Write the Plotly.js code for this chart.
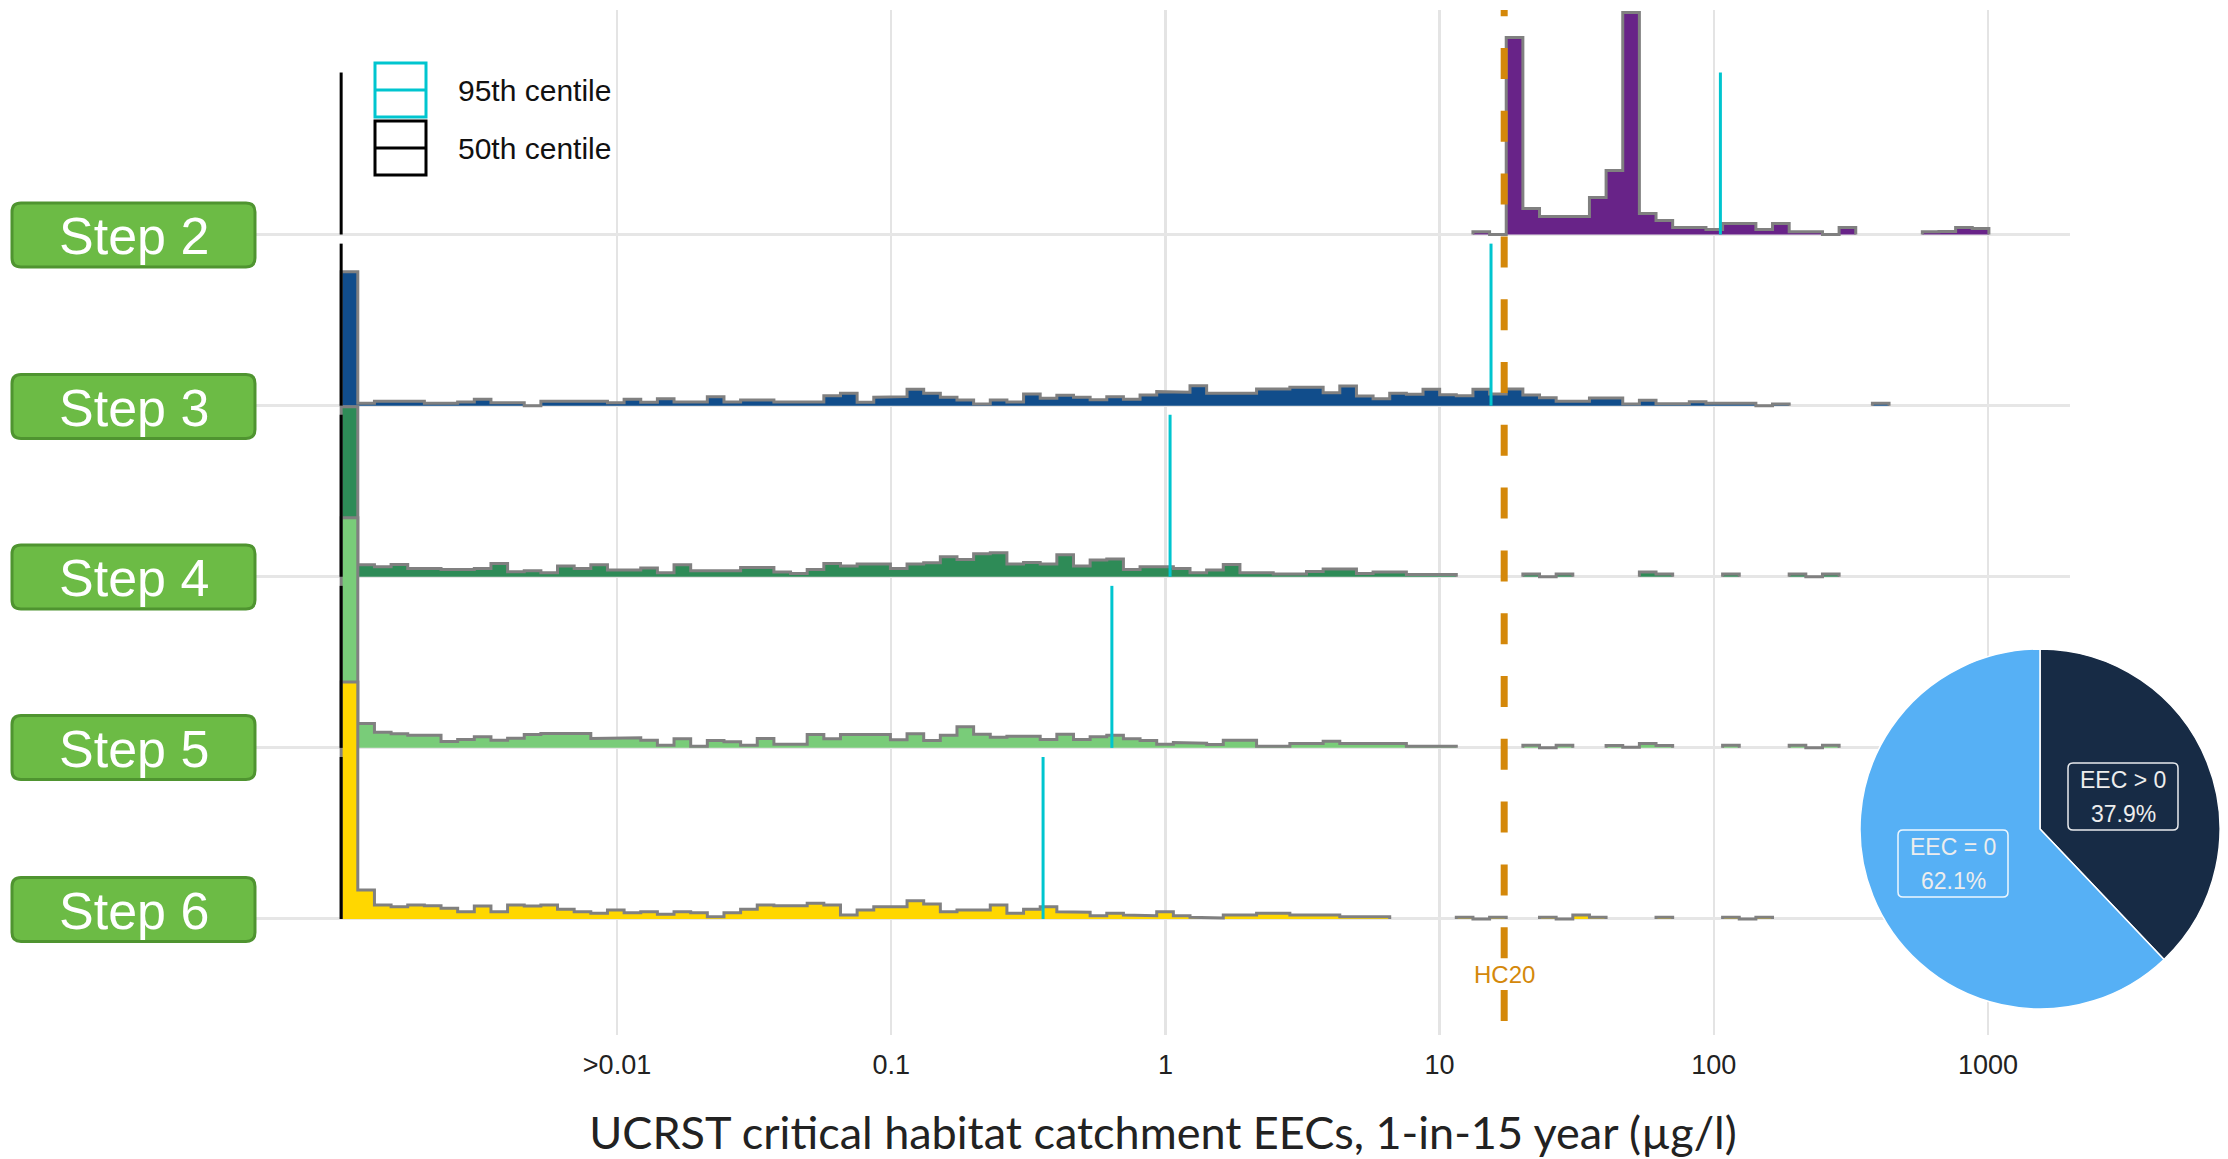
<!DOCTYPE html>
<html><head><meta charset="utf-8">
<script src="https://cdn.plot.ly/plotly-3.0.1.min.js"></script>
<style>html,body{margin:0;padding:0;background:#fff;}#chart{width:2228px;height:1159px;}</style>
</head><body><div id="chart"></div>
<script>
const W = 2228, H = 1159;

// ---- data ----
const steps = ['Step 2', 'Step 3', 'Step 4', 'Step 5', 'Step 6'];
const stepColors = ['#682388', '#114D8B', '#2E8B57', '#79CC79', '#FFD700'];
// histogram bins on log10 scale; bin 0 holds EEC = 0 (drawn at the left edge)
const binStartLog = -3.006;
const binWidthLog = 0.0607;
// relative bin heights, first bin index of each series given separately
const step2First = 68;
const step2 = [2.7,0,197,26,18,18,18,37,64,222,21,14,7,7,5,11,11,5,11,2.7,2.7,0,7,null,null,null,null,2.7,3,7,6];
const step3First = 0;
const step3 = [134,2.3,4.3,4.3,4.3,2.3,2.3,3.7,6.3,3,
  3,0,4.3,4.3,4.3,4.3,3,6.3,3.3,7,
  3.7,3.7,9,3.7,5.7,5.7,3.7,3.7,3.7,10,
  12.3,3.3,8.3,9,16.3,12.3,8.3,5.7,1.7,5.7,
  3.7,11.7,7.3,10.3,8.3,6,9,6.3,10.7,14,
  13.3,20,12.3,12.3,12.3,16.7,16.7,18.3,18.3,13,
  19.7,9.7,7,12.3,11.3,16.3,11,10,16.3,11.7,
  16.7,10.7,8,4.3,4.3,7.7,7.7,1.7,5.3,2,
  2,4,2.3,2.3,2.3,0,1.7,null,null,null,
  null,null,2.3];
const step4First = 0;
const step4 = [170,12,10,12.3,8.3,8.3,7.3,7.3,8.3,13.3,
  5,6,4,10.7,8.3,12,6.7,6.7,8.7,4,
  12,6,6,6,9.3,9.3,4.7,3.3,7.3,13.3,
  10.7,12.7,12.7,8.3,12.7,14,20,17.3,23,24,
  12.7,14.3,12.7,22,10.7,16.7,17.7,7.3,10,10,
  8.3,4,6.7,12.3,4,4,2.7,2.7,5.3,7.7,
  7.7,3.3,4.7,4.7,2.3,2.3,2.3,null,null,null,
  null,2.7,0,2.7,null,null,null,null,4.7,2.7,
  null,null,null,2.7,null,null,null,2.7,0,2.7];
const step5First = 0;
const step5 = [230,24.3,15.7,14,12.7,12.7,6.3,8.3,11,7.7,
  9.7,13.3,14.3,13.7,14.3,9.3,10,10,7.7,2.7,
  9,1.7,7.3,6,2.7,9.3,3.7,3.7,13.3,9,
  13.3,13.3,13.3,8,14,7.3,12.7,21,13.7,10.7,
  11.7,11.7,8.3,13.7,8.3,11,12.7,9,7.3,3.7,
  5.3,4.7,3.3,7.7,7.7,1.7,1.7,4.3,4.3,6.7,
  4.3,4.3,4.3,4.3,1.7,1.7,1.7,null,null,null,
  null,2.7,0,2.7,null,null,2.3,0.7,4.3,2.3,
  null,null,null,2.7,null,null,null,2.7,0,2.7];
const step6First = 0;
const step6 = [237,29,14,12.3,14,13.3,10.7,7.3,13,7.3,
  14,13,14,9.7,7.3,5.7,9,6.3,7.3,4.7,
  7.3,6.3,2.3,6.3,9.7,14,13.3,13.3,15.7,14,
  4,9,12.3,12.3,18.3,15,7.3,9,9,14,
  5.7,9.7,12.3,7.3,6.7,3.3,5.7,4,3.3,7.3,
  3.3,1.7,1,4,4,5.7,5.7,4,4,4,
  2.3,2.3,2.3,null,null,null,null,1.7,0,1.7,
  null,null,1.7,0,4,1.7,null,null,null,1.7,
  null,null,null,1.7,0,1.7];
const seriesList = [step2, step3, step4, step5, step6];
const seriesFirst = [step2First, step3First, step4First, step5First, step6First];

const p95 = [105.7, 15.4, 1.04, 0.638, 0.358];   // 95th centile, µg/l
const p50 = [0, 0, 0, 0, 0];                     // 50th centile, µg/l
const zeroPlotX = Math.pow(10, binStartLog);     // where EEC = 0 is drawn
const hc20 = 17.2;

const tickVals = [0.01, 0.1, 1, 10, 100, 1000];
const tickText = ['>0.01', '0.1', '1', '10', '100', '1000'];
const xTitle = 'UCRST critical habitat catchment EECs, 1-in-15 year (µg/l)';

const pieLabels = ['EEC > 0', 'EEC = 0'];
const pieValues = [37.9, 62.1];
const pieColors = ['#172B45', '#56B0F5'];

// ---- geometry ----
const plotL = 256, plotR = 2070, plotT = 10, plotB = 1035;
const yMin = -0.678, yMax = 5.312;
const pxPerUnit = (plotB - plotT) / (yMax - yMin);
const HS = 1 / pxPerUnit;
const QH = 162 * HS;
const yOfPx = p => yMin + (plotB - p) / pxPerUnit;
const PX = v => v / W, PY = v => 1 - v / H;

function edge(k) { return Math.pow(10, binStartLog + k * binWidthLog); }

function ridge(vals, first, base) {
  const x = [], y = [];
  let inRun = false, lastX = null;
  for (let i = 0; i < vals.length; i++) {
    const k = first + i, h = vals[i];
    if (h === null) {
      if (inRun) { x.push(lastX, null); y.push(base, null); inRun = false; }
      continue;
    }
    const x0 = edge(k), x1 = edge(k + 1), yy = base + h * HS;
    if (!inRun) { x.push(x0); y.push(base); inRun = true; }
    x.push(x0, x1); y.push(yy, yy);
    lastX = x1;
  }
  if (inRun) { x.push(lastX); y.push(base); }
  return {x, y};
}

const traces = [];
seriesList.forEach((vals, i) => {
  const base = 4 - i;
  const r = ridge(vals, seriesFirst[i], base);
  traces.push({type:'scatter', mode:'lines', x:r.x, y:r.y, fill:'toself',
    fillcolor: stepColors[i], line:{width:0, color:stepColors[i]}, hoverinfo:'skip', showlegend:false});
  traces.push({type:'scatter', mode:'lines', x:r.x, y:r.y,
    line:{width:3, color:'#808080'}, hoverinfo:'skip', showlegend:false});
});

function qTrace(vals, color) {
  const x = [], y = [];
  vals.forEach((v, i) => {
    const xv = v > 0 ? v : zeroPlotX;
    const base = 4 - i;
    x.push(xv, xv, null); y.push(base, base + QH, null);
  });
  return {type:'scatter', mode:'lines', x, y, line:{width:3, color}, hoverinfo:'skip', showlegend:false};
}
traces.push(qTrace(p50, '#000000'));
traces.push(qTrace(p95, '#00C5CF'));

traces.push({type:'scatter', mode:'lines', x:[hc20, hc20], y:[yOfPx(1021), yMax],
  line:{width:7, color:'#D4880A', dash:'31px,31.8px'}, hoverinfo:'skip', showlegend:false});

traces.push({type:'pie', values:pieValues, labels:pieLabels, sort:false, direction:'clockwise', rotation:0,
  marker:{colors:pieColors, line:{color:'#ffffff', width:1.5}}, textinfo:'none', hoverinfo:'none',
  domain:{x:[PX(1860), PX(2220)], y:[PY(1010), PY(648)]}, showlegend:false});

// ---- shapes ----
function rr(x0, y0, x1, y1, r) {
  const X = v => (v / W).toFixed(6), Y = v => (1 - v / H).toFixed(6);
  return `M${X(x0 + r)},${Y(y0)} L${X(x1 - r)},${Y(y0)} Q${X(x1)},${Y(y0)} ${X(x1)},${Y(y0 + r)} ` +
    `L${X(x1)},${Y(y1 - r)} Q${X(x1)},${Y(y1)} ${X(x1 - r)},${Y(y1)} L${X(x0 + r)},${Y(y1)} ` +
    `Q${X(x0)},${Y(y1)} ${X(x0)},${Y(y1 - r)} L${X(x0)},${Y(y0 + r)} Q${X(x0)},${Y(y0)} ${X(x0 + r)},${Y(y0)} Z`;
}
const shapes = [];
const annotations = [];
// legend background and keys
shapes.push({type:'rect', xref:'paper', yref:'paper', x0:PX(355), x1:PX(625), y0:PY(192), y1:PY(55),
  fillcolor:'#ffffff', line:{width:0}, layer:'between'});
const legendKeys = [{c:'#00C5CF', y0:63, y1:117, t:'95th centile'}, {c:'#000000', y0:121, y1:175, t:'50th centile'}];
legendKeys.forEach(k => {
  shapes.push({type:'rect', xref:'paper', yref:'paper', x0:PX(375), x1:PX(426), y0:PY(k.y1), y1:PY(k.y0),
    fillcolor:'#ffffff', line:{color:k.c, width:3}});
  const ym = (k.y0 + k.y1) / 2;
  shapes.push({type:'line', xref:'paper', yref:'paper', x0:PX(375), x1:PX(426), y0:PY(ym), y1:PY(ym),
    line:{color:k.c, width:3}});
  annotations.push({xref:'paper', yref:'paper', x:PX(456), y:PY(ym), xanchor:'left', yanchor:'middle',
    text:k.t, showarrow:false, font:{family:'Liberation Sans, Arial, sans-serif', size:30, color:'#111'}});
});
// step label boxes
const boxCenters = [235, 406.5, 577, 747.5, 909.5];
steps.forEach((s, i) => {
  const yc = boxCenters[i];
  shapes.push({type:'path', xref:'paper', yref:'paper', path:rr(12, yc - 32, 255, yc + 32, 9),
    fillcolor:'#6CBB45', line:{color:'#4F9430', width:3}});
  annotations.push({xref:'paper', yref:'paper', x:PX(134), y:PY(yc + 1), xanchor:'center', yanchor:'middle',
    text:s, showarrow:false, font:{family:'Liberation Sans, Arial, sans-serif', size:52, color:'#ffffff'}});
});
// pie label boxes
const pieBoxes = [{cx:2123, y0:763, y1:830}, {cx:1953, y0:830, y1:897}];
pieBoxes.forEach((b, i) => {
  shapes.push({type:'path', xref:'paper', yref:'paper', path:rr(b.cx - 55, b.y0, b.cx + 55, b.y1, 5),
    fillcolor:'rgba(0,0,0,0)', line:{color:'rgba(255,255,255,0.9)', width:1.5}});
  annotations.push({xref:'paper', yref:'paper', x:PX(b.cx), y:PY(b.y0 + 17), xanchor:'center', yanchor:'middle',
    text:pieLabels[i], showarrow:false, font:{family:'Liberation Sans, Arial, sans-serif', size:23, color:'#EDEDED'}});
  annotations.push({xref:'paper', yref:'paper', x:PX(b.cx), y:PY(b.y0 + 51), xanchor:'center', yanchor:'middle',
    text:pieValues[i].toFixed(1) + '%', showarrow:false, font:{family:'Liberation Sans, Arial, sans-serif', size:23, color:'#EDEDED'}});
});
// HC20 label
annotations.push({xref:'x', yref:'y', x:Math.log10(hc20), y:yOfPx(974), text:'HC20', showarrow:false,
  xanchor:'center', yanchor:'middle', font:{family:'Liberation Sans, Arial, sans-serif', size:24, color:'#D4880A'}});

const layout = {
  width:W, height:H, margin:{l:0, r:0, t:0, b:0}, paper_bgcolor:'#ffffff', plot_bgcolor:'#ffffff',
  showlegend:false, hovermode:false,
  xaxis:{type:'log', domain:[PX(plotL), PX(plotR)],
    range:[-2 - (617 - plotL) / 274.2, 3 + (plotR - 1988) / 274.2],
    tickvals:tickVals, ticktext:tickText, ticks:'outside', ticklen:6, tickcolor:'rgba(0,0,0,0)',
    tickfont:{family:'Liberation Sans, Arial, sans-serif', size:27, color:'#222'},
    showgrid:true, gridcolor:'#E4E4E4', gridwidth:2.5, zeroline:false, showline:false, automargin:false,
    title:{text:xTitle, standoff:38, font:{family:'Lato, Open Sans, sans-serif', size:45, color:'#222'}}},
  yaxis:{domain:[PY(plotB), PY(plotT)], range:[yMin, yMax], tickvals:[0,1,2,3,4], showticklabels:false,
    showgrid:true, gridcolor:'#E6E6E6', gridwidth:3, zeroline:false, showline:false, ticks:'', automargin:false},
  shapes, annotations
};
Plotly.newPlot('chart', traces, layout, {displayModeBar:false, staticPlot:true});
</script></body></html>
